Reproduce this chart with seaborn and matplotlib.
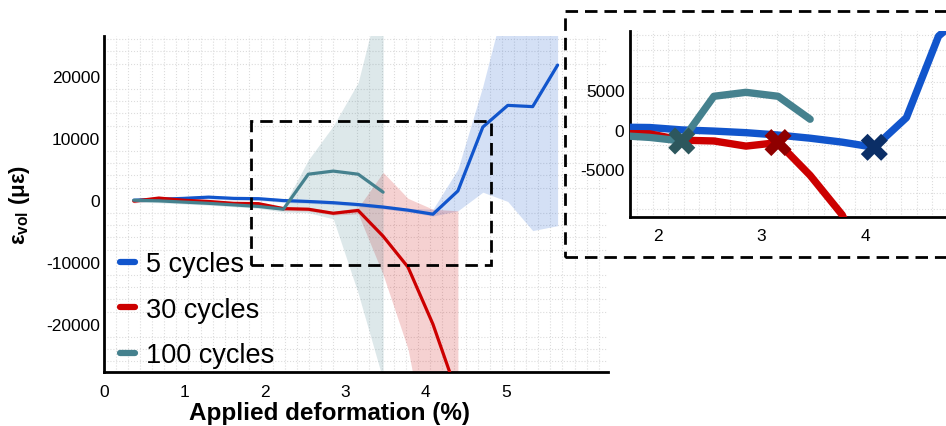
import numpy as np
import pandas as pd
import seaborn as sns
import matplotlib.pyplot as plt
from matplotlib.patches import Rectangle
from matplotlib.ticker import MultipleLocator

# --- Data ---
deform = [0.37, 0.68, 0.99, 1.30, 1.61, 1.92, 2.23, 2.54, 2.85,
          3.16, 3.47, 3.78, 4.09, 4.40, 4.71, 5.02, 5.33, 5.64]

evol_5 = [0, 150, 300, 500, 300, 250, -50, -200, -400,
          -700, -1100, -1600, -2250, 1500, 11800, 15300, 15100, 21800]
lo_5 = [-300, -150, 0, 200, 0, -50, -350, -500, -700,
        -1000, -1400, -1900, -2550, -1700, 1300, -200, -4900, -4100]
hi_5 = [300, 450, 600, 800, 600, 550, 250, 100, -100,
        -400, -800, -1300, -1450, 5000, 18400, 34000, 36000, 38000]

evol_30 = [-150, 350, 0, -200, -500, -550, -1350, -1450, -2100,
           -1650, -5800, -10800, -20000, -31500]
lo_30 = [-450, 50, -300, -500, -800, -850, -1650, -1750, -2400,
         -2200, -12000, -24000, -45000, -50000]
hi_30 = [150, 650, 300, 100, -200, -250, -1050, -1150, -1800,
         -1200, 4500, 300, -1450, -1700]

evol_100 = [0, -100, -300, -500, -750, -1000, -1450, 4200, 4700, 4200, 1300]
lo_100 = [-300, -400, -600, -800, -1050, -1300, -1900, -2000, -3000, -15000, -29000]
hi_100 = [300, 200, 0, -200, -450, -700, -1000, 6500, 12000, 19000, 35000]

labels = ['5 cycles', '30 cycles', '100 cycles']
colors = ['#1155cc', '#cc0000', '#45818e']
mark_colors = ['#0b2e66', '#8f0000', '#2d575d']
turn_idx = [12, 9, 6]  # point where each curve turns (marked in the zoom)

series = [(evol_5, lo_5, hi_5), (evol_30, lo_30, hi_30), (evol_100, lo_100, hi_100)]
frames = []
for lab, (ev, lo, hi) in zip(labels, series):
    frames.append(pd.DataFrame({'x': deform[:len(ev)], 'y': ev, 'lo': lo, 'hi': hi, 'series': lab}))
df = pd.concat(frames, ignore_index=True)
turns = pd.concat([f.iloc[[i]] for f, i in zip(frames, turn_idx)], ignore_index=True)
palette = dict(zip(labels, colors))
mark_palette = dict(zip(labels, mark_colors))

# --- Style ---
sns.set_theme(style='white')
plt.rcParams['font.family'] = ['Liberation Sans', 'DejaVu Sans']
plt.rcParams['mathtext.fontset'] = 'custom'
plt.rcParams['mathtext.rm'] = 'Liberation Sans'
plt.rcParams['mathtext.bf'] = 'Liberation Sans:bold'
plt.rcParams['axes.unicode_minus'] = False
for k in ['text.color', 'axes.labelcolor', 'xtick.color', 'ytick.color']:
    plt.rcParams[k] = 'black'

fig = plt.figure(figsize=(9.46, 4.27), dpi=100)
ax = fig.add_axes([0.110, 0.1265, 0.533, 0.787])

# confidence bands
for lab, f in df.groupby('series', sort=False):
    ax.fill_between(f['x'], f['lo'], f['hi'], color=palette[lab], alpha=0.18, lw=0, zorder=1)

sns.lineplot(data=df, x='x', y='y', hue='series', palette=palette, lw=2.3,
             sort=False, errorbar=None, ax=ax, zorder=3)

ax.set_xlim(0, 6.27)
ax.set_ylim(-27700, 26500)
ax.set_xticks([0, 1, 2, 3, 4, 5])
ax.set_yticks([-20000, -10000, 0, 10000, 20000])
ax.xaxis.set_minor_locator(MultipleLocator(0.15))
ax.yaxis.set_minor_locator(MultipleLocator(2000))
ax.grid(which='minor', color='#dcdcdc', ls=':', lw=0.8)
ax.set_axisbelow(True)
ax.tick_params(labelsize=12.5, length=0)
ax.tick_params(axis='x', pad=9)
ax.tick_params(axis='y', pad=3)
for s in ['top', 'right']:
    ax.spines[s].set_visible(False)
for s in ['left', 'bottom']:
    ax.spines[s].set_color('black')
    ax.spines[s].set_linewidth(2)

ax.set_xlabel('Applied deformation (%)', fontsize=17.5, fontweight='bold')
ax.xaxis.set_label_coords(0.448, -0.085)
ax.set_ylabel('ε$_{\\mathbf{vol}}$ (με)', fontsize=16, fontweight='bold', labelpad=10)

leg = ax.legend(loc='lower left', bbox_to_anchor=(-0.005, -0.045), frameon=False,
                fontsize=19.5, handlelength=0.55, handletextpad=0.4, labelspacing=0.72,
                borderaxespad=0.3)
for h in leg.legend_handles:
    h.set_linewidth(4.5)

# dashed zoom window
ax.add_patch(Rectangle((1.83, -10500), 2.98, 23250, fill=False, ec='black',
                       lw=2, ls=(0, (4.5, 2.5)), zorder=5))

# --- Inset (zoom) ---
axin = fig.add_axes([0.666, 0.4895, 0.36, 0.4355])
sns.lineplot(data=df, x='x', y='y', hue='series', palette=palette, lw=5.3,
             sort=False, errorbar=None, legend=False, ax=axin, zorder=3)
sns.scatterplot(data=turns, x='x', y='y', hue='series', palette=mark_palette,
                marker='X', s=380, linewidth=0, legend=False, ax=axin, zorder=4)
axin.set_xlim(1.73, 5.02)
axin.set_ylim(-11060, 12450)
axin.set_xticks([2, 3, 4])
axin.set_yticks([-5000, 0, 5000])
axin.xaxis.set_minor_locator(MultipleLocator(0.15))
axin.yaxis.set_minor_locator(MultipleLocator(2000))
axin.grid(which='minor', color='#dcdcdc', ls=':', lw=0.8)
axin.set_axisbelow(True)
axin.tick_params(labelsize=12.5, length=0)
axin.tick_params(axis='x', pad=8)
axin.tick_params(axis='y', pad=4)
axin.set_xlabel('')
axin.set_ylabel('')
for s in ['top', 'right']:
    axin.spines[s].set_visible(False)
for s in ['left', 'bottom']:
    axin.spines[s].set_color('black')
    axin.spines[s].set_linewidth(2)

fig.add_artist(Rectangle((0.597, 0.396), 0.5, 0.576, transform=fig.transFigure,
                         fill=False, ec='black', lw=2, ls=(0, (4.5, 2.5)), clip_on=False))

fig.savefig('out.png', dpi=100)
